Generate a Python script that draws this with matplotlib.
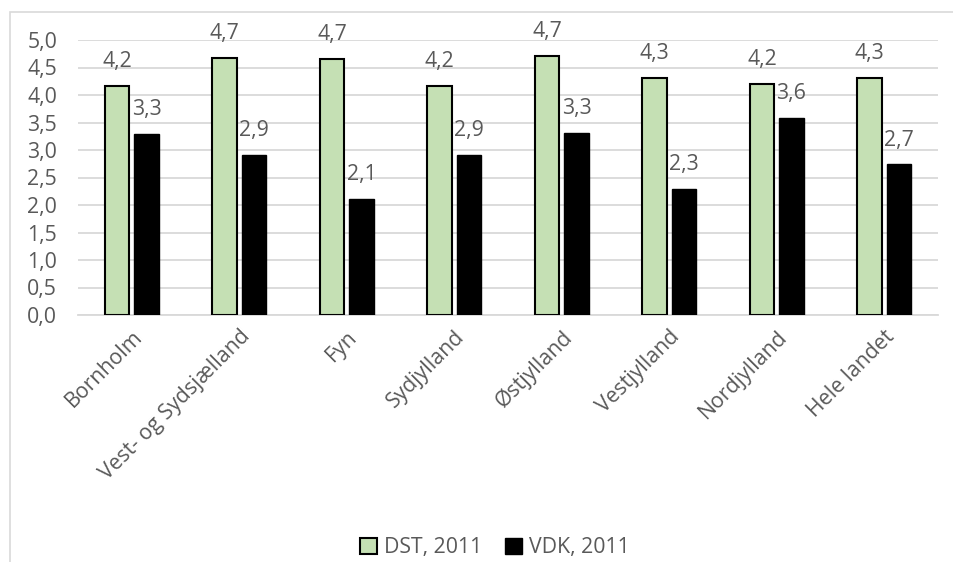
import matplotlib
matplotlib.use("Agg")
import matplotlib.pyplot as plt
import numpy as np
from matplotlib.patches import Rectangle

categories = ["Bornholm", "Vest- og Sydsjælland", "Fyn", "Sydjylland", "Østjylland",
              "Vestjylland", "Nordjylland", "Hele landet"]
dst_2011 = [4.16, 4.67, 4.66, 4.17, 4.71, 4.31, 4.20, 4.31]
vdk_2011 = [3.30, 2.91, 2.11, 2.91, 3.31, 2.29, 3.59, 2.74]
series_names = ["DST, 2011", "VDK, 2011"]
yticks = [0.0, 0.5, 1.0, 1.5, 2.0, 2.5, 3.0, 3.5, 4.0, 4.5, 5.0]

plt.rcParams['font.family'] = ['Open Sans', 'DejaVu Sans']
text_color = "#595959"
grid_color = "#D9D9D9"
green = "#C5E0B4"
fs = 15.3

fig = plt.figure(figsize=(9.54, 5.62), dpi=100)
ax = fig.add_axes([78/954, 1-315/562, (938-78)/954, (315-40)/562])

x = np.arange(len(categories))
w = 0.23
off = 0.137
b1 = ax.bar(x - off, dst_2011, width=w, color=green, edgecolor="black", linewidth=1.5,
            label=series_names[0], zorder=3)
b2 = ax.bar(x + off, vdk_2011, width=w, color="black", edgecolor="black", linewidth=1.0,
            label=series_names[1], zorder=3)

def fmt(v):
    return f"{v:.1f}".replace(".", ",")

for bars, vals in ((b1, dst_2011), (b2, vdk_2011)):
    for r, v in zip(bars, vals):
        ax.annotate(fmt(v), (r.get_x() + r.get_width()/2, v), xytext=(0, 13.5),
                    textcoords="offset points", ha="center", va="baseline",
                    fontsize=fs, color=text_color)

ax.set_xlim(-0.5, len(categories) - 0.5)
ax.set_ylim(0, 5.0)
ax.set_yticks(yticks)
ax.set_yticklabels([fmt(t) for t in yticks], fontsize=fs, color=text_color)
ax.set_xticks(x)
ax.set_xticklabels(categories, rotation=45, ha="right", va="top", rotation_mode="anchor",
                   fontsize=fs, color=text_color)
ax.tick_params(axis="both", length=0)
ax.tick_params(axis="y", pad=15)
ax.tick_params(axis="x", pad=8)
ax.grid(axis="y", color=grid_color, linewidth=1.3, zorder=0)
ax.set_axisbelow(True)
for s in ["top", "right", "left"]:
    ax.spines[s].set_visible(False)
ax.spines["bottom"].set_color(grid_color)
ax.spines["bottom"].set_linewidth(1.3)

leg = fig.legend(handles=[b1, b2], labels=series_names, loc="center",
                 bbox_to_anchor=(495/954, 1-548/562), ncol=2, frameon=False,
                 fontsize=fs, handlelength=0.8, handleheight=0.8, handletextpad=0.3,
                 columnspacing=1.1)
for t in leg.get_texts():
    t.set_color(text_color)

fig.add_artist(Rectangle((10/954, -0.1), 1.2, 1.1 - 12/562, transform=fig.transFigure,
                         fill=False, edgecolor=grid_color, linewidth=1.2, clip_on=False))

fig.savefig("out.png", dpi=100)
